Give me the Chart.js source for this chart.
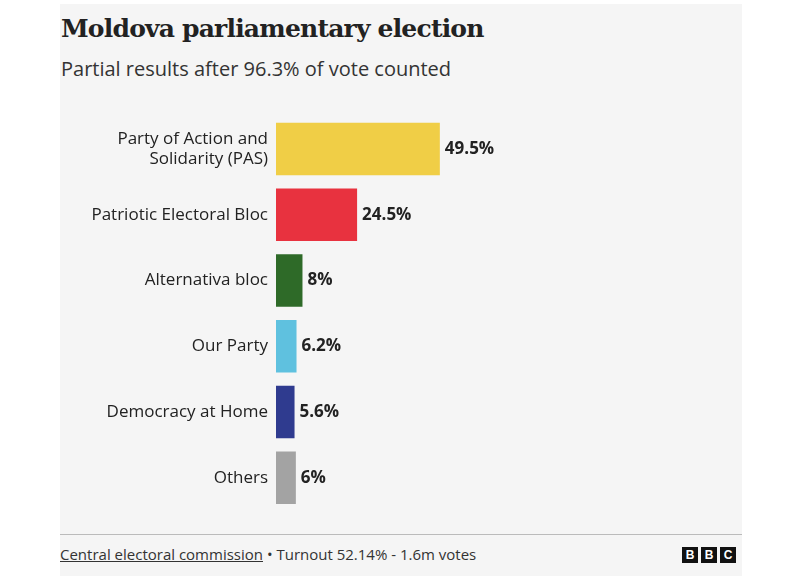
<!DOCTYPE html>
<html>
<head>
<meta charset="utf-8">
<script src="https://cdn.jsdelivr.net/npm/chart.js@4"></script>
<style>
  body { margin: 0; background: #fff; font-family: "Open Sans", "Noto Sans", sans-serif; }
  #panel { position: absolute; left: 60px; top: 4px; width: 682px; height: 572px; background: #f5f5f5; }
  #title { position: absolute; left: 1px; top: 10px; font-family: "DejaVu Serif", serif; font-weight: bold; font-size: 25px; color: #222; letter-spacing: -0.8px; }
  #sub { position: absolute; left: 1px; top: 51px; font-size: 20px; color: #333; }
  #wrap { position: absolute; left: 0; top: 102px; width: 682px; height: 425px; }
  #rule { position: absolute; left: 0; right: 0; top: 530px; border-top: 1px solid #bbb; }
  #foot { position: absolute; left: 0; top: 540px; font-size: 15px; color: #333; }
  #foot u { text-decoration: underline; }
  #bbc { position: absolute; right: 6px; top: 543px; display: flex; gap: 3px; }
  #bbc span { width: 16px; height: 16px; background: #111; color: #fff; font: bold 12px "Liberation Sans", sans-serif; text-align: center; line-height: 16px; }
</style>
</head>
<body>
<div id="panel">
  <div id="title">Moldova parliamentary election</div>
  <div id="sub">Partial results after 96.3% of vote counted</div>
  <div id="wrap"><canvas id="chart"></canvas></div>
  <div id="rule"></div>
  <div id="foot"><u>Central electoral commission</u> • Turnout 52.14% - 1.6m votes</div>
  <div id="bbc"><span>B</span><span>B</span><span>C</span></div>
</div>
<script>
const parties = [['Party of Action and', 'Solidarity (PAS)'], 'Patriotic Electoral Bloc', 'Alternativa bloc', 'Our Party', 'Democracy at Home', 'Others'];
const shares = [49.5, 24.5, 8, 6.2, 5.6, 6];
const shareLabels = ['49.5%', '24.5%', '8%', '6.2%', '5.6%', '6%'];
const colours = ['#f0ce46', '#e8323f', '#2e6a28', '#5fc1df', '#2f3b8f', '#a3a3a3'];

const valueLabels = {
    id: 'valueLabels',
    afterDatasetsDraw(chart) {
        const c = chart.ctx;
        c.save();
        c.font = 'bold 17px "Open Sans", sans-serif';
        c.fillStyle = '#222';
        c.textBaseline = 'middle';
        chart.getDatasetMeta(0).data.forEach(function (bar, i) {
            c.fillText(shareLabels[i], bar.x + 5, bar.y);
        });
        c.restore();
    }
};

new Chart(document.getElementById('chart'), {
    type: 'bar',
    data: {
        labels: parties,
        datasets: [{ data: shares, backgroundColor: colours, categoryPercentage: 0.8, barPercentage: 1 }]
    },
    options: {
        indexAxis: 'y',
        responsive: true,
        maintainAspectRatio: false,
        animation: false,
        layout: { padding: { right: 135 } },
        scales: {
            x: { display: false, min: 0, max: 100 },
            y: {
                afterFit(axis) { axis.width = 216; },
                grid: { display: false },
                border: { display: false },
                ticks: { color: '#222', padding: 0, font: { size: 17, family: '"Open Sans", sans-serif' }, lineHeight: 1.1 }
            }
        },
        plugins: { legend: { display: false }, tooltip: { enabled: false } }
    },
    plugins: [valueLabels]
});
</script>
</body>
</html>
